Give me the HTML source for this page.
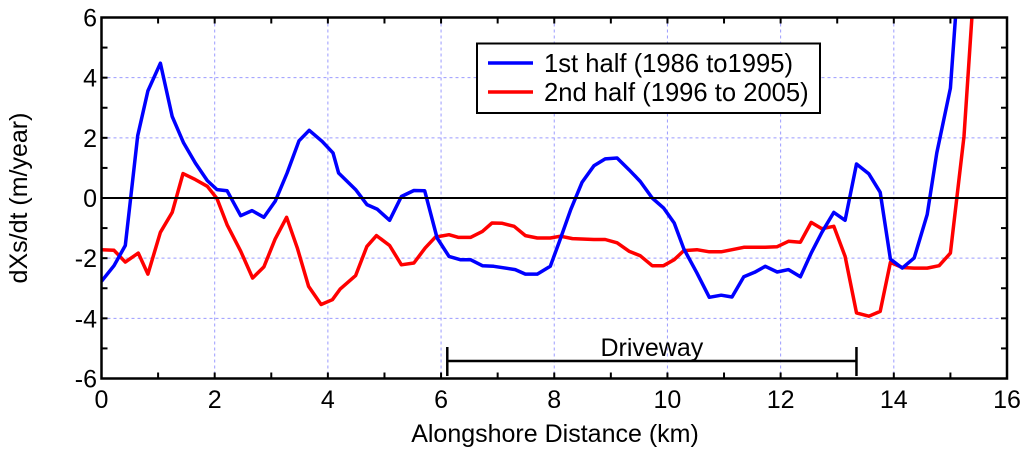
<!DOCTYPE html>
<html><head><meta charset="utf-8"><style>
html,body{margin:0;padding:0;background:#fff;}
svg{display:block;font-family:"Liberation Sans",Arial,sans-serif;}
</style></head><body>
<svg id="chart" width="1024" height="451" viewBox="0 0 1024 451" xmlns="http://www.w3.org/2000/svg">
<defs><clipPath id="pc"><rect x="101.5" y="17.5" width="905.5" height="361"/></clipPath></defs>
<g id="grid"></g>
<g id="series" clip-path="url(#pc)"></g>
<g id="axes"></g>
<text x="27" y="198" transform="rotate(-90 27 198)" text-anchor="middle" font-size="25">dXs/dt (m/year)</text>
<text x="555" y="442" text-anchor="middle" font-size="25">Alongshore Distance (km)</text>
<g>
<rect x="477" y="43.5" width="343" height="69.5" fill="#fff" stroke="#000" stroke-width="2"/>
<line x1="488" y1="63" x2="533" y2="63" stroke="#0000ff" stroke-width="3.5"/>
<text x="544" y="72" font-size="25.6">1st half (1986 to1995)</text>
<line x1="488" y1="92" x2="533" y2="92" stroke="#ff0000" stroke-width="3.5"/>
<text x="544" y="101" font-size="25.6">2nd half (1996 to 2005)</text>
</g>
<g id="drive"></g>
</svg>
<script>
const firstX=[0,0.22,0.42,0.64,0.82,1.04,1.25,1.45,1.66,1.87,2.04,2.22,2.46,2.66,2.87,3.07,3.28,3.49,3.67,3.9,4.09,4.19,4.49,4.69,4.87,5.09,5.3,5.52,5.71,5.93,6.14,6.34,6.52,6.73,6.93,7.31,7.49,7.7,7.93,8.1,8.29,8.49,8.7,8.9,9.11,9.32,9.52,9.73,9.93,10.12,10.29,10.52,10.74,10.95,11.14,11.35,11.54,11.73,11.94,12.14,12.35,12.54,12.73,12.94,13.14,13.34,13.56,13.76,13.94,14.15,14.36,14.59,14.76,15.0,15.09,15.12];
const firstY=[-2.77,-2.25,-1.58,2.07,3.56,4.48,2.71,1.83,1.16,0.58,0.28,0.24,-0.59,-0.42,-0.64,-0.11,0.83,1.9,2.25,1.88,1.5,0.83,0.28,-0.22,-0.37,-0.74,0.05,0.25,0.24,-1.33,-1.94,-2.05,-2.05,-2.25,-2.27,-2.38,-2.53,-2.53,-2.27,-1.4,-0.39,0.52,1.07,1.3,1.33,0.94,0.55,0,-0.33,-0.83,-1.69,-2.49,-3.3,-3.23,-3.29,-2.62,-2.47,-2.27,-2.46,-2.38,-2.62,-1.83,-1.14,-0.48,-0.74,1.13,0.8,0.19,-2.03,-2.33,-1.99,-0.55,1.5,3.65,6.01,6.5];
const secondX=[0,0.22,0.42,0.65,0.82,1.04,1.25,1.44,1.66,1.87,2.04,2.22,2.46,2.67,2.87,3.07,3.27,3.46,3.66,3.88,4.08,4.22,4.49,4.69,4.86,5.09,5.3,5.52,5.72,5.9,6.14,6.31,6.52,6.73,6.9,7.08,7.29,7.49,7.7,7.93,8.11,8.32,8.7,8.9,9.11,9.32,9.52,9.73,9.93,10.12,10.29,10.52,10.74,10.95,11.14,11.35,11.73,11.94,12.14,12.35,12.54,12.73,12.94,13.14,13.34,13.56,13.76,13.94,14.15,14.36,14.59,14.8,15.0,15.24,15.38,15.42];
const secondY=[-1.72,-1.74,-2.13,-1.83,-2.53,-1.14,-0.48,0.81,0.61,0.39,-0.02,-0.89,-1.77,-2.66,-2.29,-1.36,-0.64,-1.66,-2.94,-3.54,-3.38,-3.02,-2.58,-1.61,-1.25,-1.58,-2.22,-2.16,-1.66,-1.3,-1.22,-1.31,-1.31,-1.11,-0.83,-0.84,-0.94,-1.25,-1.33,-1.33,-1.27,-1.35,-1.38,-1.38,-1.49,-1.77,-1.92,-2.25,-2.25,-2.05,-1.75,-1.72,-1.79,-1.79,-1.72,-1.64,-1.64,-1.62,-1.44,-1.47,-0.81,-1.02,-0.94,-1.94,-3.82,-3.93,-3.77,-2.14,-2.31,-2.33,-2.33,-2.25,-1.83,2.05,6.0,6.5];
const xTicks=[0,2,4,6,8,10,12,14,16];
const yTicks=[-6,-4,-2,0,2,4,6];
const driveway=[6.11,13.34];
const drivewayLabel="Driveway";

const NS="http://www.w3.org/2000/svg";
const X0=101.5,X1=1007,Y0=378.5,Y1=17.5;
function sx(v){return X0+(v-0)/(16-0)*(X1-X0);}
function sy(v){return Y0-(v+6)/12*(Y0-Y1);}
function mk(tag,attrs,parent){const e=document.createElementNS(NS,tag);for(const k in attrs)e.setAttribute(k,attrs[k]);parent.appendChild(e);return e;}
const grid=document.getElementById('grid'),axes=document.getElementById('axes'),series=document.getElementById('series'),drive=document.getElementById('drive');
xTicks.forEach(t=>{if(t>0&&t<16){const l=mk('line',{x1:sx(t),x2:sx(t),y1:Y1,y2:Y0,stroke:'#9b9bff','stroke-width':1,'stroke-dasharray':'3,3'},grid);

}
const tx=mk('text',{x:sx(t),y:408,'text-anchor':'middle','font-size':25},axes);tx.textContent=t;

});
yTicks.forEach(t=>{if(t>-6&&t<6&&t!==0){const l=mk('line',{x1:X0,x2:X1,y1:sy(t),y2:sy(t),stroke:'#9b9bff','stroke-width':1,'stroke-dasharray':'3,3'},grid);

}
const tx=mk('text',{x:97,y:sy(t)+9,'text-anchor':'end','font-size':25},axes);tx.textContent=t;

});
for(let k=0;k<=16;k++){mk('line',{x1:sx(k),x2:sx(k),y1:Y0,y2:Y0-6,stroke:'#000','stroke-width':2},axes);mk('line',{x1:sx(k),x2:sx(k),y1:Y1,y2:Y1+6,stroke:'#000','stroke-width':2},axes);}
for(let k=-6;k<=6;k++){mk('line',{x1:X0,x2:X0+6,y1:sy(k),y2:sy(k),stroke:'#000','stroke-width':2},axes);mk('line',{x1:X1,x2:X1-6,y1:sy(k),y2:sy(k),stroke:'#000','stroke-width':2},axes);}
const zl=mk('line',{x1:X0,x2:X1,y1:sy(0),y2:sy(0),stroke:'#000','stroke-width':2},axes);


const fr=mk('rect',{x:X0,y:Y1,width:X1-X0,height:Y0-Y1,fill:'none',stroke:'#000','stroke-width':2.5},axes);


function line(xs,ys,col,name){const d=xs.map((x,i)=>(i?'L':'M')+sx(x).toFixed(1)+','+sy(ys[i]).toFixed(1)).join('');
const p=mk('path',{d:d,fill:'none',stroke:col,'stroke-width':3.5,'stroke-linejoin':'round'},series);

}
line(secondX,secondY,'#ff0000','line-second-half');
line(firstX,firstY,'#0000ff','line-first-half');
const dy=361;
mk('line',{x1:sx(driveway[0]),x2:sx(driveway[1]),y1:dy,y2:dy,stroke:'#000','stroke-width':2.5},drive);
mk('line',{x1:sx(driveway[0]),x2:sx(driveway[0]),y1:347,y2:376,stroke:'#000','stroke-width':2.5},drive);
mk('line',{x1:sx(driveway[1]),x2:sx(driveway[1]),y1:347,y2:376,stroke:'#000','stroke-width':2.5},drive);
const dt=mk('text',{x:(sx(driveway[0])+sx(driveway[1]))/2,y:356,'text-anchor':'middle','font-size':25},drive);dt.textContent=drivewayLabel;


</script>
</body></html>
